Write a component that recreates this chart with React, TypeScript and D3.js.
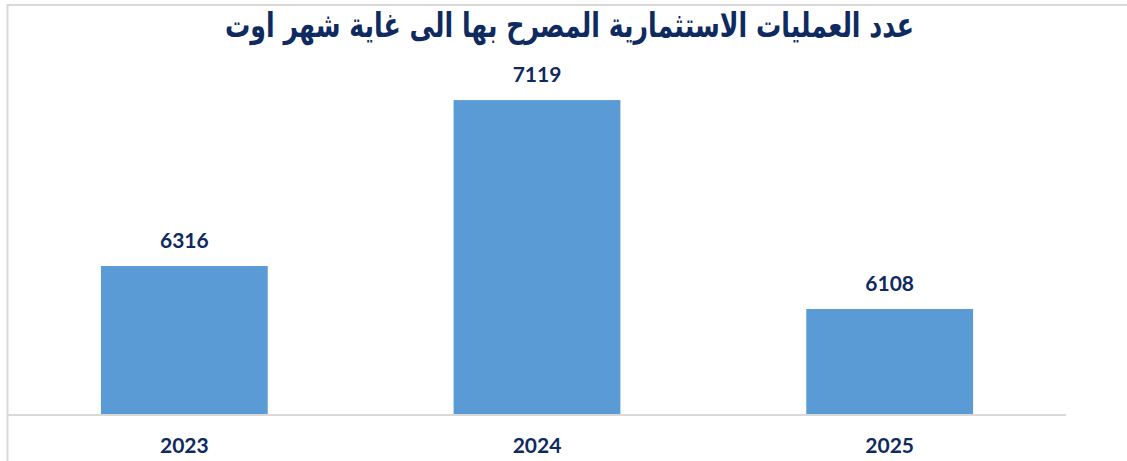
import React from "react";
import * as d3 from "d3";

const categories: string[] = ["2023", "2024", "2025"];
const values: number[] = [6316, 7119, 6108];
const title = "عدد العمليات الاستثمارية المصرح بها الى غاية شهر اوت";
const yDomain: [number, number] = [5600, 7400];

const W = 1127;
const H = 461;
const TEXT = "#0f2a5f";
const BAR = "#5b9bd5";
const GRID = "#d9d9d9";

export default function App() {
  const x = d3
    .scaleBand<string>()
    .domain(categories)
    .range([8, 1066])
    .paddingInner(0.527)
    .paddingOuter(0.2635);
  const y = d3.scaleLinear().domain(yDomain).range([414, 42]);
  const base = y(yDomain[0]);

  return (
    <svg
      width={W}
      height={H}
      style={{ position: "absolute", left: 0, top: 0, background: "#fff" }}
    >
      <rect x={0} y={0} width={W} height={H} fill="#fff" />
      <line x1={7} x2={W} y1={5} y2={5} stroke={GRID} strokeWidth={2} />
      <line x1={7.5} x2={7.5} y1={4} y2={H} stroke={GRID} strokeWidth={2} />
      <text
        x={569.5}
        y={37}
        textAnchor="middle"
        direction="rtl"
        fontFamily="DejaVu Sans"
        fontWeight="bold"
        fontSize={34}
        textLength={689}
        lengthAdjust="spacingAndGlyphs"
        fill={TEXT}
      >
        {title}
      </text>
      {categories.map((c, i) => (
        <g key={c}>
          <rect
            x={x(c)!}
            y={y(values[i])}
            width={x.bandwidth()}
            height={base - y(values[i])}
            fill={BAR}
          />
          <text
            x={x(c)! + x.bandwidth() / 2}
            y={y(values[i]) - 18}
            textAnchor="middle"
            fontFamily="Lato"
            fontWeight="bold"
            fontSize={21}
            fill={TEXT}
          >
            {values[i]}
          </text>
          <text
            x={x(c)! + x.bandwidth() / 2}
            y={453}
            textAnchor="middle"
            fontFamily="Lato"
            fontWeight="bold"
            fontSize={21}
            fill={TEXT}
          >
            {c}
          </text>
        </g>
      ))}
      <line x1={8} x2={1066} y1={415} y2={415} stroke={GRID} strokeWidth={2} />
    </svg>
  );
}
